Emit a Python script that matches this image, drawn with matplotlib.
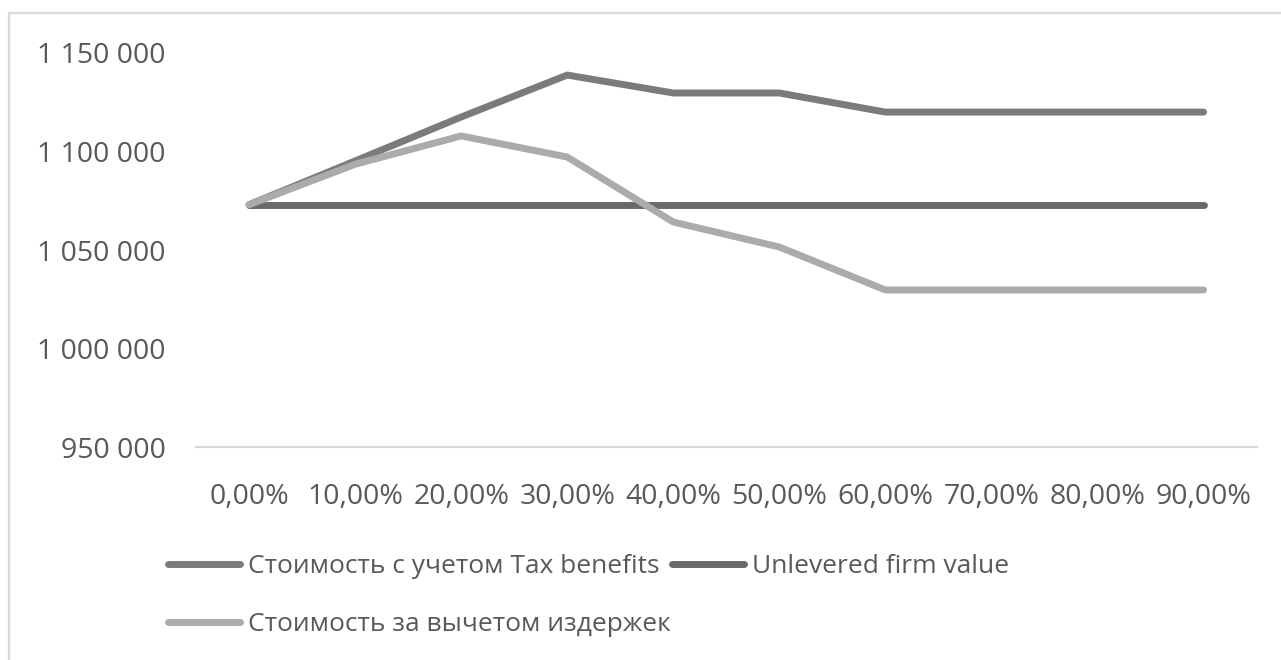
import matplotlib.pyplot as plt
from matplotlib.patches import Rectangle
from matplotlib.ticker import FuncFormatter

plt.rcParams['font.family'] = ['Open Sans', 'DejaVu Sans']

debt_share = ["0,00%", "10,00%", "20,00%", "30,00%", "40,00%",
              "50,00%", "60,00%", "70,00%", "80,00%", "90,00%"]
with_tax = [1073000, 1095200, 1117500, 1138800, 1129700,
            1129700, 1120000, 1120000, 1120000, 1120000]
unlevered = [1073000] * 10
net_costs = [1073000, 1093500, 1107900, 1097200, 1064200,
             1051500, 1029700, 1029700, 1029700, 1029700]

label_tax = "Стоимость с учетом Tax benefits"
label_unlev = "Unlevered firm value"
label_net = "Стоимость за вычетом издержек"

txt = '#595959'

fig = plt.figure(figsize=(12.81, 6.6), dpi=100)
ax = fig.add_axes([0.153, 0.3227, 0.828, 0.597])

x = range(len(debt_share))
style = dict(lw=5, solid_capstyle='round', solid_joinstyle='round')
l1, = ax.plot(x, with_tax, color='#7b7b7b', zorder=3, **style)
l2, = ax.plot(x, unlevered, color='#6a6a6a', zorder=2, **style)
l3, = ax.plot(x, net_costs, color='#ababab', zorder=4, **style)

ax.set_xlim(-0.5, len(debt_share) - 0.5)
ax.set_ylim(950000, 1150000)
ax.set_yticks([950000, 1000000, 1050000, 1100000, 1150000])
ax.yaxis.set_major_formatter(FuncFormatter(lambda v, p: f"{v:,.0f}".replace(",", " ")))
ax.set_xticks(list(x))
ax.set_xticklabels(debt_share)

for s in ['top', 'right', 'left']:
    ax.spines[s].set_visible(False)
ax.spines['bottom'].set_color('#d9d9d9')
ax.spines['bottom'].set_linewidth(1.6)
ax.tick_params(axis='both', length=0, labelsize=20.5, colors=txt)
ax.tick_params(axis='y', pad=22)
ax.tick_params(axis='x', pad=26)

leg = fig.legend([l1, l3, l2], [label_tax, label_net, label_unlev], ncol=2,
                 loc='upper left', bbox_to_anchor=(0.131, 0.160),
                 frameon=False, fontsize=19, handlelength=2.73, handletextpad=0.3,
                 columnspacing=0.05, labelspacing=1.23, borderaxespad=0, borderpad=0)
for t in leg.get_texts():
    t.set_color(txt)

# outer chart border
fig.patches.append(Rectangle((9 / 1281, -0.1), 1.2, (660 - 13) / 660 + 0.1,
                             transform=fig.transFigure, fill=False,
                             edgecolor='#d9d9d9', lw=1.6))

fig.savefig('out.png', dpi=100)
